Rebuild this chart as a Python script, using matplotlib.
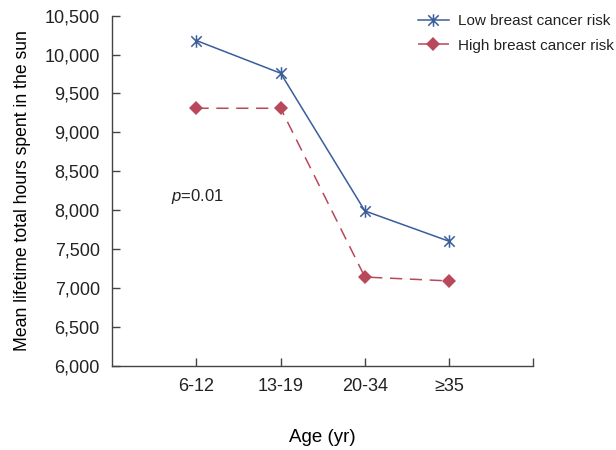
import matplotlib
matplotlib.use("Agg")
import matplotlib.pyplot as plt
from matplotlib.path import Path

# data
age_groups = ["6-12", "13-19", "20-34", "≥35"]
low_risk = [10180, 9760, 7990, 7600]
high_risk = [9310, 9310, 7140, 7090]
y_ticks = [6000, 6500, 7000, 7500, 8000, 8500, 9000, 9500, 10000, 10500]

plt.rcParams['font.family'] = ['Liberation Sans', 'DejaVu Sans']
plt.rcParams['mathtext.fontset'] = 'custom'
plt.rcParams['mathtext.it'] = 'Liberation Sans:italic'
plt.rcParams['mathtext.rm'] = 'Liberation Sans'
plt.rcParams['text.color'] = '#222222'

blue = '#3a5d9c'
red = '#b8485a'

# excel-like star: an X with a vertical bar through it
star = Path([(-1, -1), (1, 1), (-1, 1), (1, -1), (0, -1.2), (0, 1.2)],
            [Path.MOVETO, Path.LINETO, Path.MOVETO, Path.LINETO, Path.MOVETO, Path.LINETO])

fig = plt.figure(figsize=(6.16, 4.5), dpi=100)
ax = fig.add_axes([0.1823, 0.1873, 0.6834, 0.7778])

x = list(range(1, len(age_groups) + 1))
ax.plot(x, low_risk, color=blue, lw=1.1, marker=star, ms=9,
        mew=1.1, label='Low breast cancer risk')
ax.plot(x, high_risk, color=red, lw=1.1, ls=(0, (8, 5)), marker='D', ms=7,
        mew=0, label='High breast cancer risk')

ax.set_xlim(0, 5)
ax.set_ylim(6000, 10500)
ax.set_xticks([1, 2, 3, 4, 5])
ax.set_xticklabels(age_groups + [''])
ax.set_yticks(y_ticks)
ax.set_yticklabels([f"{v:,}" for v in y_ticks])
ax.tick_params(direction='in', length=6, width=1, color='#444444',
               labelsize=13, labelcolor='#222222', pad=9)

for side in ['top', 'right']:
    ax.spines[side].set_visible(False)
for side in ['left', 'bottom']:
    ax.spines[side].set_color('#444444')
    ax.spines[side].set_linewidth(1)

ax.set_xlabel('Age (yr)', fontsize=13.5, labelpad=24)
ax.set_ylabel('Mean lifetime total hours spent in the sun', fontsize=12.7, labelpad=10)

ax.text(0.7, 8180, '$p$=0.01', fontsize=12, va='center', ha='left')

fig.legend(loc='upper left', bbox_to_anchor=(418 / 616, 0.969), frameon=False,
           fontsize=11, handlelength=2.0, handletextpad=0.6, labelspacing=0.7,
           borderpad=0, borderaxespad=0)

fig.savefig('out.png', dpi=100)
